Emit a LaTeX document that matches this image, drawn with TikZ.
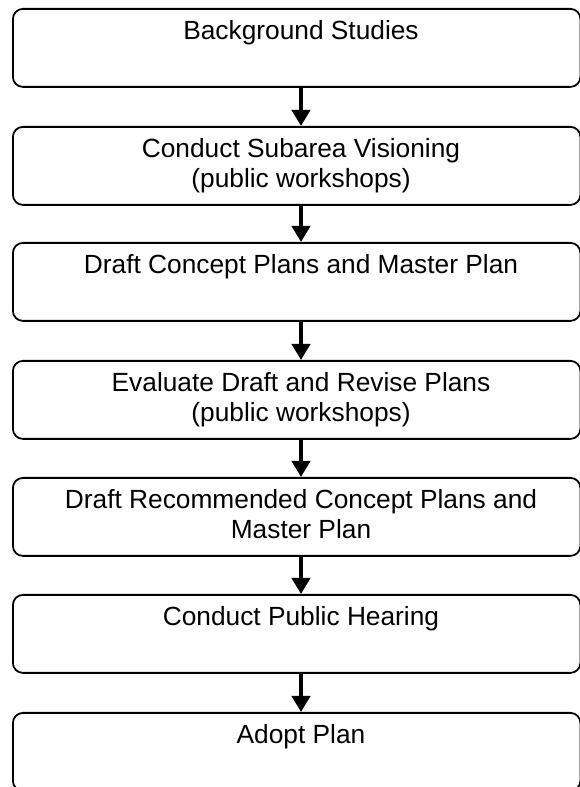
\documentclass[tikz,border=0pt]{standalone}
\usepackage{fontspec}
\setmainfont{Liberation Sans}
\usetikzlibrary{arrows.meta}
\begin{document}
\begin{tikzpicture}[x=1pt,y=1pt,
  stagebox/.style={draw, line width=1.8pt, rounded corners=10pt,
    minimum width=567.5pt, minimum height=78pt, inner sep=0pt, anchor=north west},
  stagetext/.style={font=\fontsize{26.3}{30}\selectfont, align=center,
    anchor=base, inner sep=0pt},
  flow/.style={-{Triangle[width=18pt,length=16pt]}, line width=4pt}]
\useasboundingbox (0,0) rectangle (580,787);
\clip (0,0) rectangle (580,787);

% stage boxes (top edges measured from the top of the page)
\node[stagebox] (b1) at (12,779) {};
\node[stagebox] (b2) at (12,661) {};
\node[stagebox] (b3) at (12,545) {};
\node[stagebox] (b4) at (12,427) {};
\node[stagebox] (b5) at (12,310) {};
\node[stagebox] (b6) at (12,193) {};
\node[stagebox] (b7) at (12,75) {};

% stage titles; the base anchor sits on the last line's baseline
\node[stagetext] (t1) at (301,747) {Background Studies};
\node[stagetext] (t2) at (301,599) {Conduct Subarea Visioning\\(public workshops)};
\node[stagetext] (t3) at (301,513) {Draft Concept Plans and Master Plan};
\node[stagetext] (t4) at (301,365) {Evaluate Draft and Revise Plans\\(public workshops)};
\node[stagetext] (t5) at (301,248) {Draft Recommended Concept Plans and\\Master Plan};
\node[stagetext] (t6) at (301,161) {Conduct Public Hearing};
\node[stagetext] (t7) at (301,43) {Adopt Plan};

% flow arrows between consecutive stages
\draw[flow] (t1 |- b1.south) -- (t1 |- b2.north);
\draw[flow] (t1 |- b2.south) -- (t1 |- b3.north);
\draw[flow] (t1 |- b3.south) -- (t1 |- b4.north);
\draw[flow] (t1 |- b4.south) -- (t1 |- b5.north);
\draw[flow] (t1 |- b5.south) -- (t1 |- b6.north);
\draw[flow] (t1 |- b6.south) -- (t1 |- b7.north);
\end{tikzpicture}
\end{document}
